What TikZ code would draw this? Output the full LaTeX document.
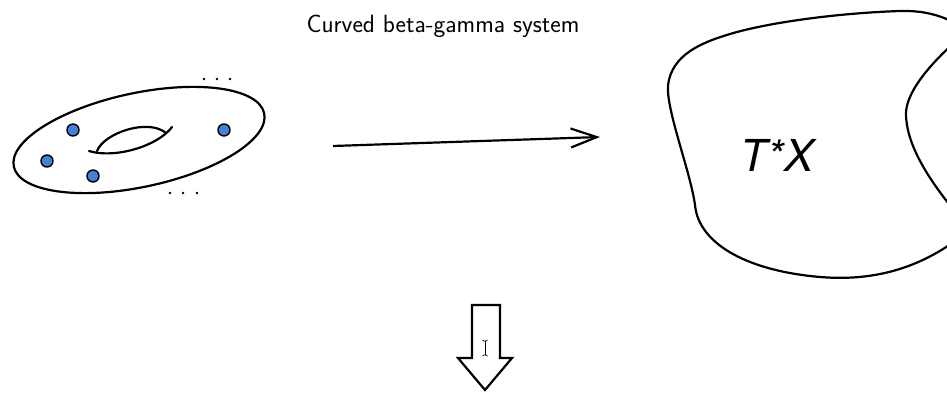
\documentclass[tikz,border=0pt]{standalone}
\usepackage{fontspec}
\newfontfamily\herosfont{TeX Gyre Heros}
\usetikzlibrary{arrows.meta}
\definecolor{ptblue}{RGB}{66,128,218}
\tikzset{
  outline/.style={line width=2.2pt, line join=round, line cap=round},
  pointmark/.style={circle, draw=black, line width=1.4pt, fill=ptblue, inner sep=0pt, minimum size=12pt},
  dotmark/.style={circle, fill=black, inner sep=0pt, minimum size=2.6pt},
}
\begin{document}
\begin{tikzpicture}[x=1pt,y=-1pt]
\useasboundingbox (0,0) rectangle (947,393);
% title
\node[font=\sffamily\fontsize{25}{29}\selectfont] (title) at (443,26) {Curved beta-gamma system};
% torus
\draw[outline] (139,140) ellipse [x radius=128, y radius=47, rotate=12];
\draw[outline] (89,151) .. controls (115,159) and (158,146) .. (172,127);
\draw[outline] (97,151) .. controls (104,133) and (148,118) .. (166,133);
\node[pointmark] (p1) at (73,130) {};
\node[pointmark] (p2) at (47,161) {};
\node[pointmark] (p3) at (93,176) {};
\node[pointmark] (p4) at (224,130) {};
\node[dotmark] (d1) at (204,79) {};
\node[dotmark] (d2) at (217,79) {};
\node[dotmark] (d3) at (230,79) {};
\node[dotmark] (d4) at (170,193) {};
\node[dotmark] (d5) at (183,193) {};
\node[dotmark] (d6) at (197,193) {};
% map arrow
\coordinate (astart) at (333,146);
\coordinate (aend) at (600,137);
\draw[line width=2.2pt, -{Straight Barb[length=26pt,width=19pt,line width=2.2pt]}] (astart) -- (aend);
% target blob
\begin{scope}
\clip (0,0) rectangle (947,393);
\draw[outline] (975,40) .. controls (960,22) and (935,10) .. (900,11)
  .. controls (840,13) and (770,22) .. (730,34)
  .. controls (700,43) and (672,55) .. (668,85)
  .. controls (666,110) and (690,170) .. (695,205)
  .. controls (698,240) and (740,270) .. (820,277)
  .. controls (880,282) and (930,265) .. (975,225);
\draw[outline] (975,25) .. controls (950,45) and (905,85) .. (906,115)
  .. controls (907,150) and (935,190) .. (975,235);
\end{scope}
\node[font=\herosfont\itshape\fontsize{44}{48}\selectfont] (tx) at (777,155) {T\kern0.01em\raisebox{0.02em}{\fontsize{42}{44}\selectfont *}\kern0.01em X};
% down arrow
\draw[outline, line cap=butt, line join=miter] (472,305) -- (500,305) -- (500,358) -- (512,358) -- (485,390) -- (458,358) -- (472,358) -- cycle;
% cursor
\draw[line width=0.8pt] (485,341) -- (485,355);
\draw[line width=0.7pt] (482.5,340) -- (484,341) -- (486,341) -- (487.5,340);
\draw[line width=0.7pt] (482.5,356) -- (484,355) -- (486,355) -- (487.5,356);
\end{tikzpicture}
\end{document}
